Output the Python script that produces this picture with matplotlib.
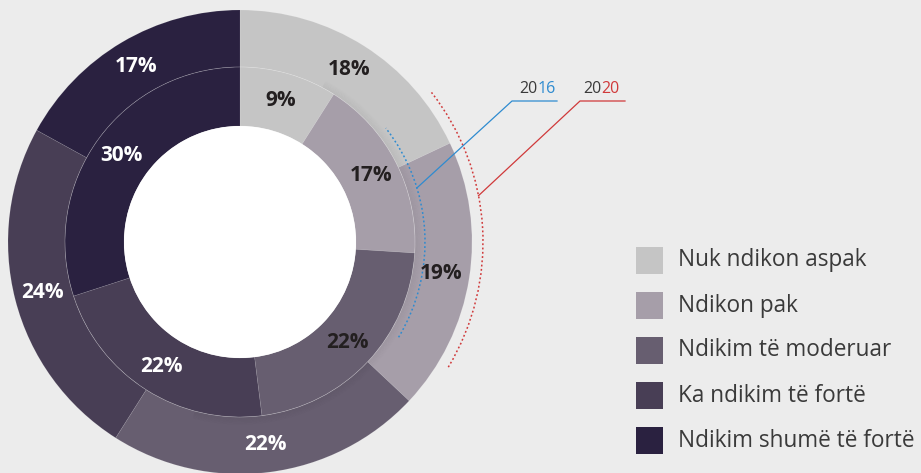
import numpy as np
import matplotlib.pyplot as plt
from matplotlib.patches import Circle, Wedge, Arc, Rectangle

# data
categories = ["Nuk ndikon aspak", "Ndikon pak", "Ndikim të moderuar",
              "Ka ndikim të fortë", "Ndikim shumë të fortë"]
values_2020 = [18, 19, 22, 24, 17]   # outer ring
values_2016 = [9, 17, 22, 22, 30]    # inner ring
colors = ["#c5c5c5", "#a69ea9", "#675e70", "#483e55", "#2a2140"]
text_outer = ["#231f20", "#231f20", "white", "white", "white"]
text_inner = ["#231f20", "#231f20", "#231f20", "white", "white"]

BG = "#ececec"
W, H = 921, 473
cx, cy = 240, H - 242
r_out, r_mid, r_hole = 232, 175, 116

fig = plt.figure(figsize=(W / 100, H / 100), dpi=100, facecolor=BG)
ax = fig.add_axes([0, 0, 1, 1])
ax.set_facecolor(BG)

edge = (1, 1, 1, 0.12)
ax.pie(values_2020, radius=r_out, center=(cx, cy), startangle=90,
       counterclock=False, colors=colors,
       wedgeprops=dict(width=r_out - r_mid, edgecolor=edge, linewidth=0.5))

# soft shadow of the inner ring on the outer ring
for k in range(8):
    ax.add_patch(Wedge((cx, cy), r_mid + k + 1, 90 - 195, 90 - 28, width=1,
                       facecolor="black", alpha=0.045 * (1 - k / 8),
                       edgecolor="none"))

ax.pie(values_2016, radius=r_mid, center=(cx, cy), startangle=90,
       counterclock=False, colors=colors,
       wedgeprops=dict(width=r_mid - r_hole, edgecolor=edge, linewidth=0.5))
ax.add_patch(Arc((cx, cy), 2 * r_mid, 2 * r_mid, theta1=0, theta2=360,
                 color="white", alpha=0.18, lw=0.5))
ax.add_patch(Circle((cx, cy), r_hole, facecolor="white", edgecolor="none"))

ax.set_xlim(0, W)
ax.set_ylim(0, H)
ax.set_aspect("equal")
ax.axis("off")


def pt(a, r):
    t = np.deg2rad(a)
    return cx + r * np.sin(t), cy + r * np.cos(t)


def ring_labels(vals, tcols, rad):
    start = 0.0
    for v, c in zip(vals, tcols):
        mid = (start + v / 2) * 3.6
        x, y = pt(mid, rad)
        ax.text(x, y, f"{v}%", ha="center", va="center", fontsize=15,
                fontweight="bold", color=c, family=["Open Sans", "DejaVu Sans"])
        start += v


ring_labels(values_2020, text_outer, 204)
ring_labels(values_2016, text_inner, 147)

# dotted arcs + leaders
blue, red = "#2e8bd0", "#d0393a"
for r, col in [(185, blue), (243, red)]:
    ax.add_patch(Arc((cx, cy), 2 * r, 2 * r, theta1=90 - 121, theta2=90 - 52,
                     color=col, lw=1.1, ls=(0, (1.2, 1.6))))

ly = H - 101
fig.canvas.draw()
for (a, r, kx, ex, col, yr, tx) in [(73, 185, 512, 557, blue, "16", 519),
                                   (79, 243, 580, 625, red, "20", 583)]:
    x0, y0 = pt(a, r)
    ax.plot([x0, kx, ex], [y0, ly, ly], color=col, lw=0.9)
    t1 = ax.text(tx, ly + 4, "20", ha="left", va="bottom", fontsize=11.5,
                 color="#3a3a3a", family="Open Sans")
    bb = t1.get_window_extent(renderer=fig.canvas.get_renderer())
    x1 = ax.transData.inverted().transform((bb.x1, bb.y0))[0]
    ax.text(x1, ly + 4, yr, ha="left", va="bottom", fontsize=11.5,
            color=col, family="Open Sans")

# legend
for i, (lab, col) in enumerate(zip(categories, colors)):
    top = H - (247 + 45 * i)
    ax.add_patch(Rectangle((636, top - 27), 27, 27, facecolor=col,
                           edgecolor="none"))
    ax.text(678, top - 13.5, lab, ha="left", va="center", fontsize=16.3,
            color="#3a3a3a", family="Open Sans")

fig.savefig("out.png", dpi=100, facecolor=BG)
